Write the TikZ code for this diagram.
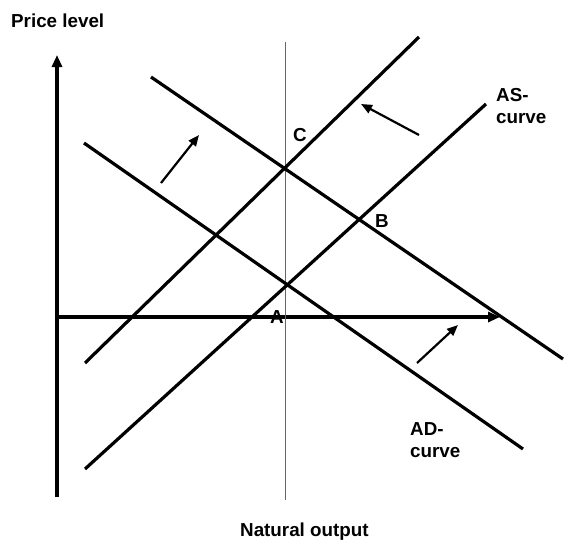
\documentclass[tikz,border=0pt]{standalone}
\usepackage{fontspec}
\setmainfont{Liberation Sans}
\usetikzlibrary{arrows.meta}
\begin{document}
\begin{tikzpicture}[x=1pt,y=-1pt,
  curveline/.style={line width=3.2pt},
  axisline/.style={line width=3.2pt,-{Triangle[length=12pt,width=10pt]}},
  shiftarrow/.style={line width=2.2pt,-{Triangle[length=11pt,width=9pt]}},
  natline/.style={line width=1pt,draw=black!60},
  lbl/.style={font=\bfseries\fontsize{18.8}{22}\selectfont, inner sep=0pt, anchor=base west},
  mlbl/.style={font=\bfseries\fontsize{18.8}{22}\selectfont, inner sep=0pt, anchor=north west, align=left},
]
\useasboundingbox (0,0) rectangle (565,541);
% axes
\coordinate (ybot) at (57,497);
\coordinate (ytop) at (57,55);
\coordinate (xleft) at (57,317);
\coordinate (xright) at (500,317);
\draw[axisline] (ybot) -- (ytop);
\draw[axisline] (xleft) -- (xright);
% natural output line
\coordinate (ntop) at (285,42);
\coordinate (nbot) at (285,500);
\draw[natline] (nbot) -- (ntop);
% AS curves
\coordinate (as1a) at (85,363);
\coordinate (as1b) at (419,37);
\coordinate (as2a) at (85,469);
\coordinate (as2b) at (486,104);
\draw[curveline] (as1a) -- (as1b);
\draw[curveline] (as2a) -- (as2b);
% AD curves
\coordinate (ad1a) at (151,77);
\coordinate (ad1b) at (563,359);
\coordinate (ad2a) at (84,143);
\coordinate (ad2b) at (523,449);
\draw[curveline] (ad1a) -- (ad1b);
\draw[curveline] (ad2a) -- (ad2b);
% shift arrows
\coordinate (s1a) at (161,183);
\coordinate (s1b) at (199,135);
\coordinate (s2a) at (419,135);
\coordinate (s2b) at (361,104);
\coordinate (s3a) at (417,363);
\coordinate (s3b) at (458,325);
\draw[shiftarrow] (s1a) -- (s1b);
\draw[shiftarrow] (s2a) -- (s2b);
\draw[shiftarrow] (s3a) -- (s3b);
% labels
\node[lbl] (price) at (11,27) {Price level};
\node[lbl] (natural) at (240,536) {Natural output};
\node[lbl] (C) at (293,141) {C};
\node[lbl] (B) at (375,227) {B};
\node[lbl] (A) at (270,323) {A};
\node[mlbl] (aslbl) at (496,88) {AS-\\curve};
\node[mlbl] (adlbl) at (410,422) {AD-\\curve};
\end{tikzpicture}
\end{document}
